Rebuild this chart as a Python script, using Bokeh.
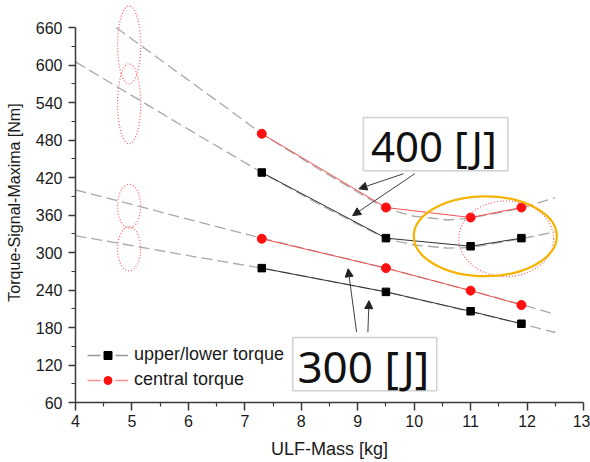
from bokeh.plotting import figure
from bokeh.models import (Range1d, FixedTicker, BoxAnnotation, Label, Arrow,
                          NormalHead, Legend, LegendItem)
from bokeh.embed import file_html
from bokeh.resources import INLINE

# measured torque maxima for each ULF mass
mass = [7.3, 9.5, 11.0, 11.9]
ul_400 = [428, 323, 310, 323]
ul_300 = [275, 237, 206, 186]
central_400 = [490, 372, 356, 372]
central_300 = [322, 275, 239, 216]

# trend curves (extrapolated towards light masses)
trend_c400_x = [4.72, 5.6, 6.5, 7.3, 8.3, 9.5, 10.0, 10.6, 11.0, 11.9, 12.5]
trend_c400_y = [660, 602, 543, 490, 434, 370, 358, 352, 355, 371, 388]
trend_ul400_x = [4.0, 5.0, 6.0, 7.3, 8.3, 9.5, 10.0, 10.6, 11.0, 11.9, 12.5]
trend_ul400_y = [605, 551, 497, 428, 378, 322, 312, 307, 308, 322, 333]
trend_300_x = [4.0, 5.0, 6.0, 7.3, 8.4, 9.5, 11.0, 11.9, 12.5]
trend_c300_y = [400, 377, 353, 323, 299, 275, 239, 217, 201]
trend_ul300_y = [327, 311, 295, 275, 256, 237, 205, 186, 172]

x_ticks = list(range(4, 14))
x_minor = [t + 0.5 for t in range(4, 13)]
y_ticks = list(range(60, 661, 60))
y_minor = list(range(90, 661, 60))

FONT = "Liberation Sans"

p = figure(width=590, height=462, output_backend="svg", toolbar_location=None,
           x_range=Range1d(4, 13), y_range=Range1d(60, 700),
           min_border_left=75, min_border_right=7, min_border_top=2,
           min_border_bottom=60)
p.outline_line_color = None
p.grid.visible = False
p.background_fill_color = "white"
p.border_fill_color = "white"

for ax, ticks, minor, bounds, label in (
        (p.xaxis[0], x_ticks, x_minor, (4, 13), "ULF-Mass [kg]"),
        (p.yaxis[0], y_ticks, y_minor, (60, 660), "Torque-Signal-Maxima [Nm]")):
    ax.ticker = FixedTicker(ticks=ticks, minor_ticks=minor)
    ax.bounds = bounds
    ax.axis_label = label
    ax.axis_label_text_font = FONT
    ax.axis_label_text_font_style = "normal"
    ax.axis_label_text_color = "#1a1a1a"
    ax.major_label_text_font = FONT
    ax.major_label_text_font_size = "16px"
    ax.major_label_text_color = "#1a1a1a"
    ax.axis_line_color = "#3a3a3a"
    ax.axis_line_width = 1.5
    ax.major_tick_line_color = "#3a3a3a"
    ax.minor_tick_line_color = "#3a3a3a"
    ax.major_tick_line_width = 1.5
    ax.minor_tick_line_width = 1.2
    ax.major_tick_in = 0
    ax.minor_tick_in = 0
    ax.minor_tick_out = 4

p.xaxis[0].axis_label_text_font_size = "18px"
p.xaxis[0].major_tick_out = 8
p.xaxis[0].major_label_standoff = 4
p.xaxis[0].axis_label_standoff = 9
p.yaxis[0].axis_label_text_font_size = "16px"
p.yaxis[0].major_tick_out = 7
p.yaxis[0].major_label_standoff = 6
p.yaxis[0].axis_label_standoff = 10

# dotted red marks around the extrapolated values at 5 kg
for cy, h in ((632, 125), (538, 128), (374, 70), (306, 71)):
    p.ellipse(x=4.95, y=cy, width=0.41, height=h, fill_color=None,
              line_color="#FF5A5A", line_dash="1 2", line_width=1.2)

# trend curves
dash_kw = dict(line_color="#A8A8A8", line_width=1.3, line_dash="11 5")
p.line(trend_c400_x, trend_c400_y, **dash_kw)
p.line(trend_ul400_x, trend_ul400_y, **dash_kw)
p.line(trend_300_x, trend_c300_y, **dash_kw)
p.line(trend_300_x, trend_ul300_y, **dash_kw)

# measured series
for ys in (ul_400, ul_300):
    p.line(mass, ys, line_color="#303030", line_width=1)
    p.scatter(mass, ys, marker="square", size=7.5, fill_color="black",
              line_color="black")
for ys in (central_400, central_300):
    p.line(mass, ys, line_color="#F25050", line_width=1)
    p.scatter(mass, ys, marker="circle", size=9, fill_color="#FF1010",
              line_color="#FF1010")

# highlighted region around the 11 kg minimum
p.ellipse(x=11.63, y=322, width=1.68, height=121, fill_color=None,
          line_color="#FF5A5A", line_dash="1 2", line_width=1.2)
p.ellipse(x=11.26, y=326, width=2.535, height=128, fill_color=None,
          line_color="#F5B400", line_width=2.2)

# energy labels with arrows
for left, right, top, bottom in ((9.10, 11.66, 516, 431),
                                 (7.85, 10.40, 164, 79)):
    p.add_layout(BoxAnnotation(left=left, right=right, top=top, bottom=bottom,
                               fill_color="white", fill_alpha=1,
                               line_color="#666666", line_width=1.5))
p.add_layout(Label(x=10.35, y=471, text="400 [J]", text_align="center",
                   text_baseline="middle", text_font="Noto Sans",
                   text_font_size="42px", text_color="#111111"))
p.add_layout(Label(x=9.10, y=118, text="300 [J]", text_align="center",
                   text_baseline="middle", text_font="Noto Sans",
                   text_font_size="44px", text_color="#111111"))

for xs, ys, xe, ye in ((9.81, 426, 9.02, 402), (10.01, 426, 8.91, 359),
                       (8.98, 172.5, 8.83, 274), (9.18, 172.5, 9.20, 223)):
    p.add_layout(Arrow(end=NormalHead(size=8, fill_color="#222222",
                                      line_color="#222222"),
                       x_start=xs, y_start=ys, x_end=xe, y_end=ye,
                       line_color="#404040", line_width=1))

# legend entries
nan = float("nan")
ul_line = p.line([nan], [nan], line_color="#999999", line_width=1.3,
                 line_dash="13 15")
ul_mark = p.scatter([nan], [nan], marker="square", fill_color="black",
                    line_color="black")
c_line = p.line([nan], [nan], line_color="#FF9090", line_width=1.3,
                line_dash="13 15")
c_mark = p.scatter([nan], [nan], marker="circle", fill_color="#FF1010",
                   line_color="#FF1010")
legend = Legend(items=[LegendItem(label="upper/lower torque",
                                  renderers=[ul_line, ul_mark]),
                       LegendItem(label="central torque",
                                  renderers=[c_line, c_mark])],
                location=(12, 12), padding=0, margin=0, spacing=4,
                glyph_width=41, glyph_height=20, label_standoff=6,
                label_text_font=FONT, label_text_font_size="18px",
                label_text_color="#1a1a1a", border_line_color=None,
                background_fill_alpha=0)
p.add_layout(legend)

open("out.html", "w").write(file_html(p, INLINE))
